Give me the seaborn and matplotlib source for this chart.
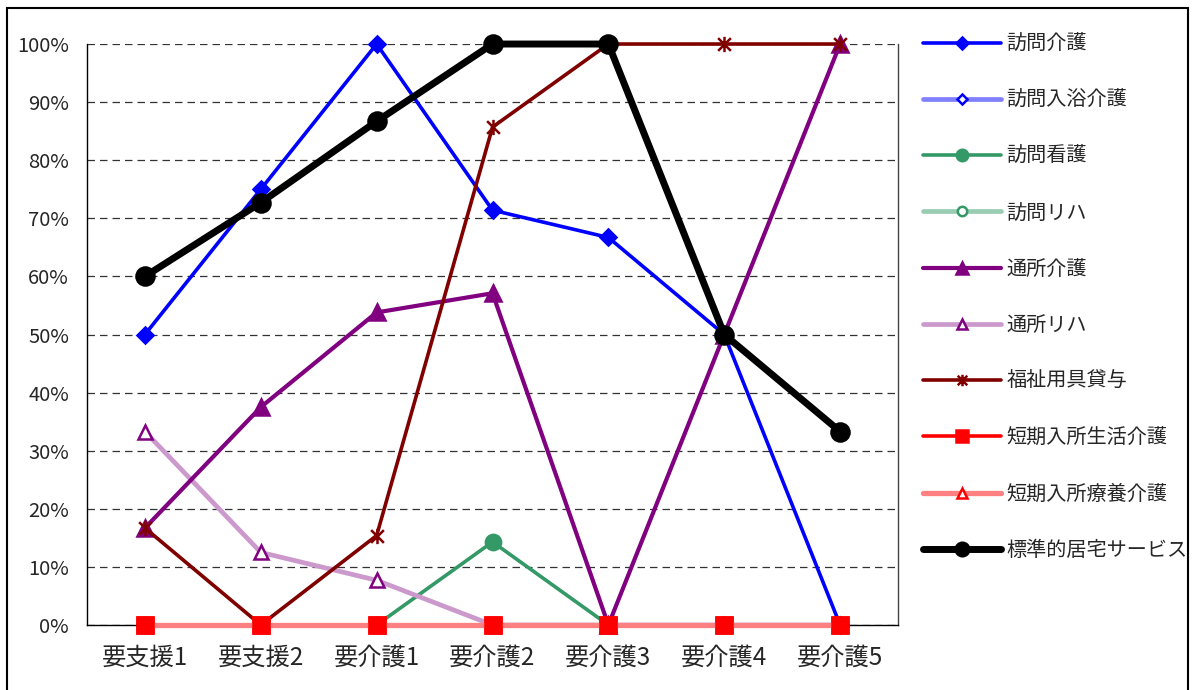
import matplotlib
matplotlib.use('Agg')
import matplotlib.pyplot as plt
import matplotlib.patches as patches
from matplotlib.path import Path
from matplotlib.ticker import PercentFormatter, FixedLocator, MultipleLocator
import pandas as pd
import seaborn as sns

categories = ['要支援1', '要支援2', '要介護1', '要介護2', '要介護3', '要介護4', '要介護5']

series_names = ['訪問介護', '訪問入浴介護', '訪問看護', '訪問リハ', '通所介護',
                '通所リハ', '福祉用具貸与', '短期入所生活介護', '短期入所療養介護',
                '標準的居宅サービス']

houmon_kaigo = [50.0, 75.0, 100.0, 71.4, 66.7, 50.0, 0.0]
houmon_nyuyoku = [0.0, 0.0, 0.0, 0.0, 0.0, 0.0, 0.0]
houmon_kango = [0.0, 0.0, 0.0, 14.3, 0.0, 0.0, 0.0]
houmon_riha = [0.0, 0.0, 0.0, 0.0, 0.0, 0.0, 0.0]
tsusho_kaigo = [16.7, 37.5, 53.8, 57.1, 0.0, 50.0, 100.0]
tsusho_riha = [33.3, 12.5, 7.7, 0.0, 0.0, 0.0, 0.0]
fukushi_yogu = [16.7, 0.0, 15.4, 85.7, 100.0, 100.0, 100.0]
tanki_seikatsu = [0.0, 0.0, 0.0, 0.0, 0.0, 0.0, 0.0]
tanki_ryoyo = [0.0, 0.0, 0.0, 0.0, 0.0, 0.0, 0.0]
hyojun = [60.0, 72.7, 86.7, 100.0, 100.0, 50.0, 33.3]

all_values = [houmon_kaigo, houmon_nyuyoku, houmon_kango, houmon_riha, tsusho_kaigo,
              tsusho_riha, fukushi_yogu, tanki_seikatsu, tanki_ryoyo, hyojun]

# excel-like asterisk marker (x plus vertical bar)
star = Path([(-1, -1), (1, 1), (-1, 1), (1, -1), (0, -1.2), (0, 1.2)],
            [Path.MOVETO, Path.LINETO] * 3)

# color, line width, marker, marker size, face, edge, zorder
styles = [
    ('#0000FF', 2.6, 'D', 8, '#0000FF', '#0000FF', 2.1),
    ('#8080FF', 3.4, 'D', 7, 'white', '#0000FF', 2.0),
    ('#339966', 2.6, 'o', 11, '#339966', '#339966', 2.2),
    ('#99CCB2', 3.4, 'o', 9, 'white', '#339966', 2.0),
    ('#800080', 3.0, '^', 11, '#800080', '#800080', 2.3),
    ('#CC99CC', 3.4, '^', 10.5, 'white', '#800080', 2.25),
    ('#800000', 2.6, star, 11, '#800000', '#800000', 2.4),
    ('#FF0000', 2.6, 's', 11, '#FF0000', '#FF0000', 2.45),
    ('#FF8080', 3.8, '^', 9, 'white', '#FF0000', 2.6),
    ('#000000', 5.0, 'o', 13, '#000000', '#000000', 3.0),
]

sns.set_style('white')
plt.rcParams['font.family'] = ['Noto Sans CJK JP', 'DejaVu Sans']

fig = plt.figure(figsize=(11.95, 6.9), dpi=100)
ax = fig.add_axes([0.0728, 0.0942, 0.6787, 0.842])

for name, vals, st in zip(series_names, all_values, styles):
    color, lw, mk, ms, mfc, mec, z = st
    df = pd.DataFrame({'区分': categories, '割合': vals})
    sns.lineplot(data=df, x='区分', y='割合', ax=ax, sort=False, label=name,
                 color=color, linewidth=lw, marker=mk, markersize=ms,
                 markerfacecolor=mfc, markeredgecolor=mec, markeredgewidth=1.8,
                 zorder=z, clip_on=False)

# red squares sit above the salmon line, as excel draws markers after lines
df_red = pd.DataFrame({'区分': categories, '割合': tanki_seikatsu})
sns.lineplot(data=df_red, x='区分', y='割合', ax=ax, sort=False, linestyle='',
             marker='s', markersize=11, markerfacecolor='#FF0000',
             markeredgecolor='#FF0000', markeredgewidth=1.8, zorder=2.8,
             clip_on=False)

ax.set_xlim(-0.5, 6.5)
ax.set_ylim(0, 100)
ax.yaxis.set_major_locator(MultipleLocator(10))
ax.yaxis.set_major_formatter(PercentFormatter(xmax=100, decimals=0))
ax.set_xlabel('')
ax.set_ylabel('')

ax.yaxis.grid(True, linestyle=(0, (6, 4)), color='#333333', linewidth=0.9)
ax.xaxis.grid(False)
ax.set_axisbelow(True)

ax.spines['top'].set_visible(False)
ax.spines['left'].set_color('black')
ax.spines['bottom'].set_color('black')
ax.spines['right'].set_color('#444444')
for s in ['left', 'bottom', 'right']:
    ax.spines[s].set_linewidth(1.0)

ax.xaxis.set_minor_locator(FixedLocator([0.5, 1.5, 2.5, 3.5, 4.5, 5.5]))
ax.tick_params(axis='x', which='major', length=0, pad=14, labelsize=17.5)
ax.tick_params(axis='x', which='minor', length=5, direction='in', color='black')
ax.tick_params(axis='y', which='major', length=0, pad=13, labelsize=14.5)

handles, labels = ax.get_legend_handles_labels()
handles, labels = handles[:10], labels[:10]
if ax.get_legend() is not None:
    ax.get_legend().remove()
fig.legend(handles, labels, loc='upper left', bbox_to_anchor=(0.772, 0.951),
           frameon=False, fontsize=14.5, handlelength=3.9, handletextpad=0.25,
           labelspacing=1.75, borderpad=0, borderaxespad=0, markerscale=0.75)

# outer chart border (bottom edge falls outside the image)
fig.patches.append(patches.Rectangle((0.006, -0.02), 0.988, 1.0085, fill=False,
                                     edgecolor='black', linewidth=1.5,
                                     transform=fig.transFigure, figure=fig))

fig.savefig('out.png', dpi=100)
